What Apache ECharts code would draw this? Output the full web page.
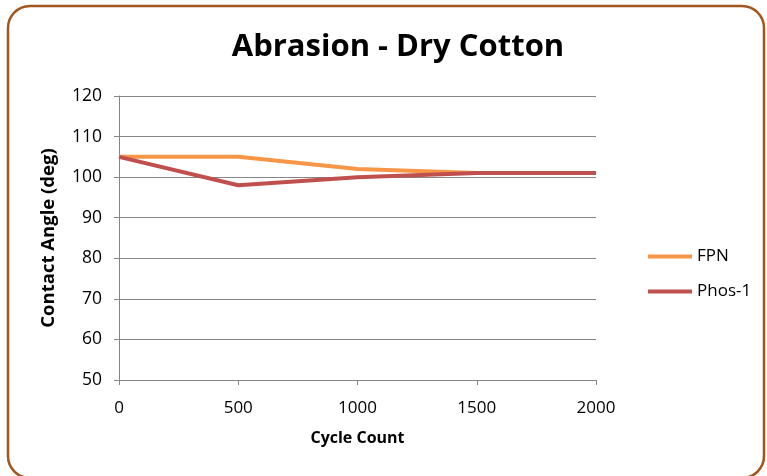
<!DOCTYPE html>
<html><head><meta charset="utf-8">
<script src="https://cdn.jsdelivr.net/npm/echarts@6/dist/echarts.min.js"></script>
<style>html,body{margin:0;padding:0;background:#fff}#c{width:767px;height:476px}</style>
</head><body><div id="c"></div>
<script>
const cycles = [0, 500, 1000, 1500, 2000];
const fpn = [105, 105, 102, 101, 101];
const phos1 = [105, 98, 100, 101, 101];
const seriesNames = ['FPN', 'Phos-1'];
const colors = ['#f79646', '#c0504d'];
const font = '"Open Sans", Lato, sans-serif';

const chart = echarts.init(document.getElementById('c'));
chart.setOption({
  animation: false,
  title: {text: 'Abrasion - Dry Cotton', left: 393, top: 27, textAlign: 'center',
    textStyle: {fontFamily: font, fontSize: 31, fontWeight: 'bold', color: '#000'}},
  graphic: [{type: 'rect', shape: {x: 8, y: 6, width: 756, height: 472, r: 22},
    style: {fill: null, stroke: '#a0561c', lineWidth: 2.5}, z: 100}],
  grid: {left: 119, right: 171, top: 96, bottom: 96},
  legend: {orient: 'vertical', left: 648, top: 248, itemGap: 18, itemWidth: 44, itemHeight: 18, padding: 0,
    icon: 'path://M0,7 L44,7 L44,11 L0,11 Z',
    textStyle: {fontFamily: font, fontSize: 17, color: '#000'},
    data: seriesNames},
  xAxis: {type: 'value', min: 0, max: 2000, interval: 500,
    name: 'Cycle Count', nameLocation: 'middle', nameGap: 50,
    nameTextStyle: {fontFamily: font, fontSize: 16, fontWeight: 'bold', color: '#000'},
    axisLine: {lineStyle: {color: '#868686'}},
    axisTick: {show: true, length: 5, inside: false, lineStyle: {color: '#868686'}},
    axisLabel: {fontFamily: font, fontSize: 17, color: '#000', margin: 20, formatter: v => String(v)},
    splitLine: {show: false}},
  yAxis: {type: 'value', min: 50, max: 120, interval: 10,
    name: 'Contact Angle (deg)', nameLocation: 'middle', nameGap: 61,
    nameTextStyle: {fontFamily: font, fontSize: 18.5, fontWeight: 'bold', color: '#000'},
    axisLine: {show: true, lineStyle: {color: '#868686'}},
    axisTick: {show: true, length: 5, lineStyle: {color: '#868686'}},
    axisLabel: {fontFamily: font, fontSize: 17.5, color: '#000', margin: 17},
    splitLine: {lineStyle: {color: '#868686'}}},
  series: [
    {name: seriesNames[0], type: 'line', data: cycles.map((c, i) => [c, fpn[i]]),
      showSymbol: false, lineStyle: {width: 4, color: colors[0]}, itemStyle: {color: colors[0]}},
    {name: seriesNames[1], type: 'line', data: cycles.map((c, i) => [c, phos1[i]]),
      showSymbol: false, lineStyle: {width: 4, color: colors[1]}, itemStyle: {color: colors[1]}}
  ]
});
</script></body></html>
